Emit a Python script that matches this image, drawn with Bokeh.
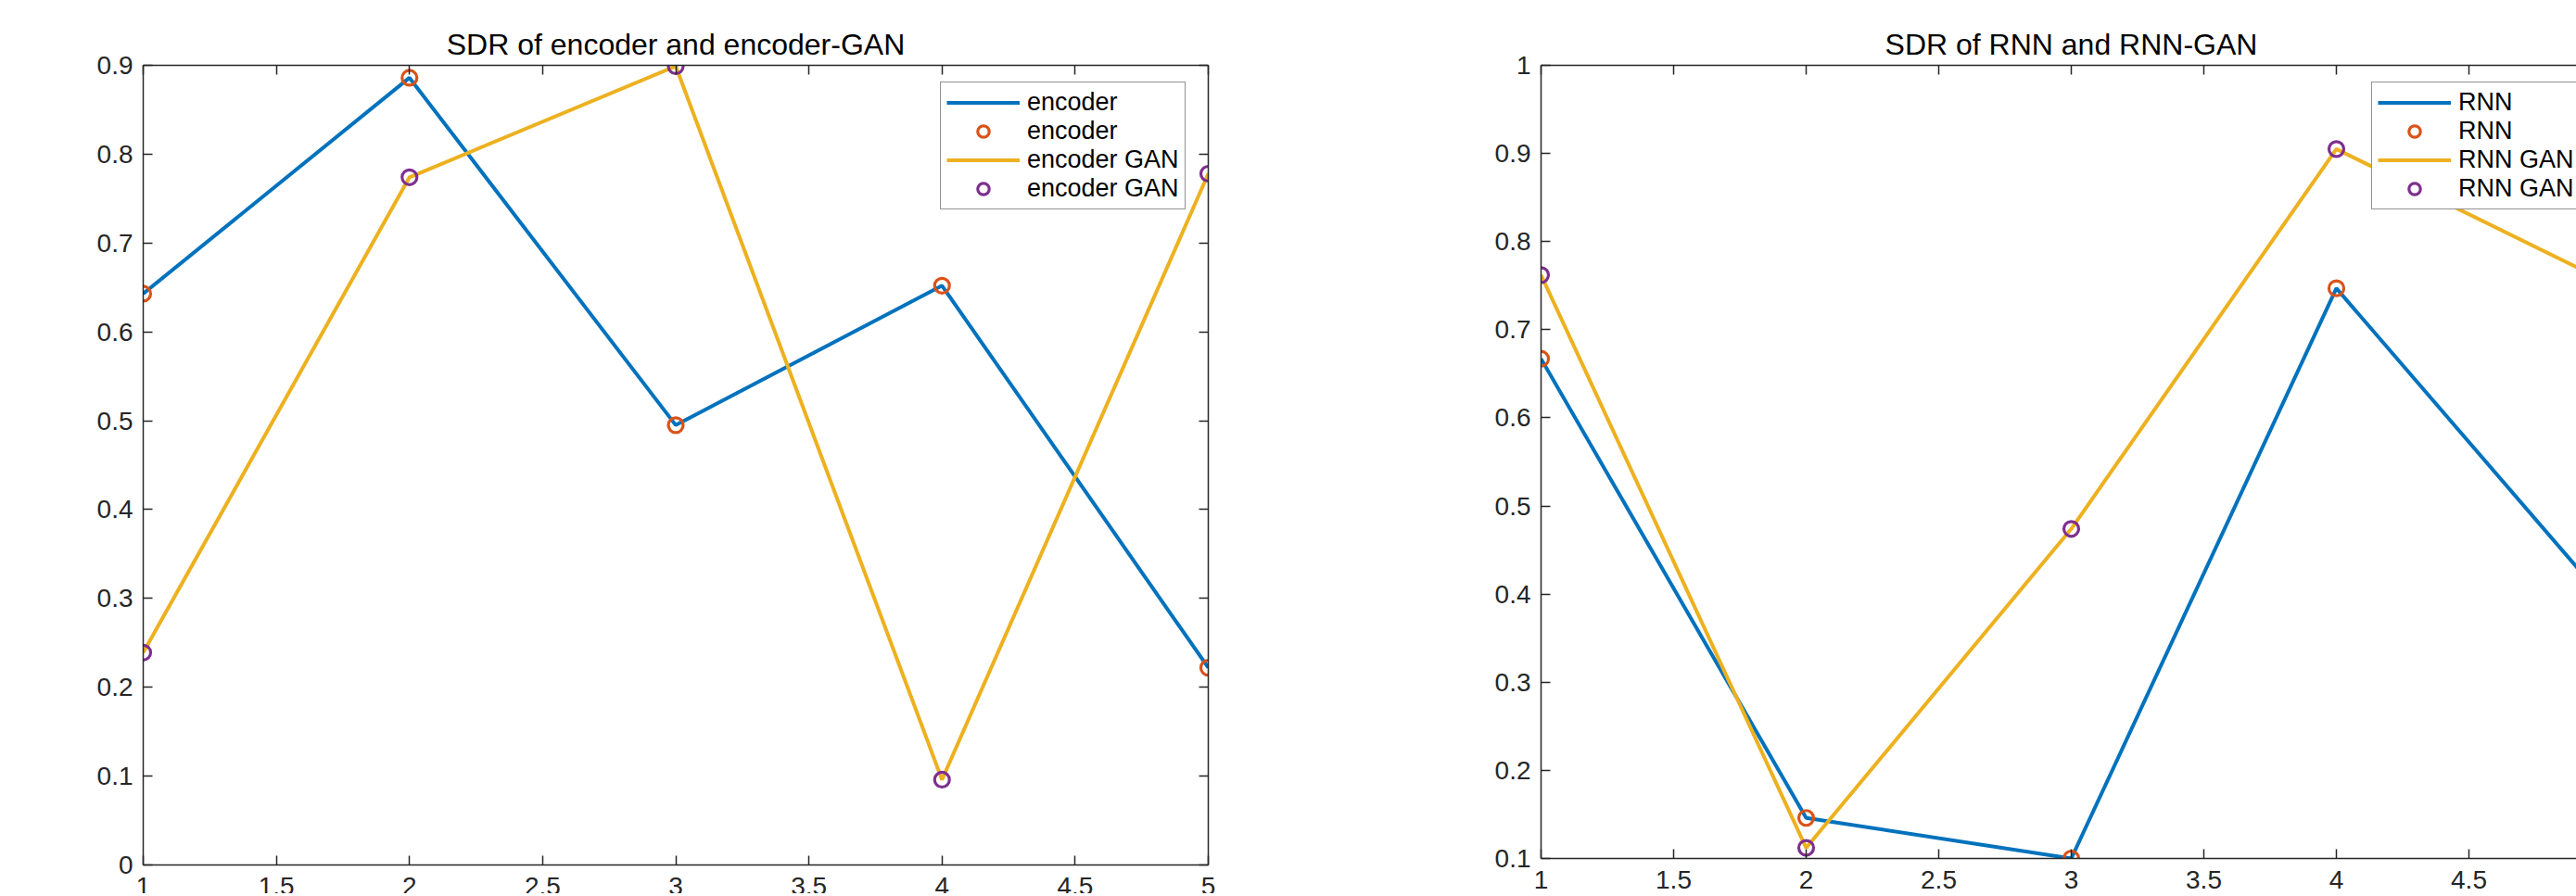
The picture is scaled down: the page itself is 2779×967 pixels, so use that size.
from bokeh.plotting import figure
from bokeh.layouts import row
from bokeh.models import (Legend, LegendItem, LinearAxis, FixedTicker, PrintfTickFormatter, Range1d)
from bokeh.embed import file_html
from bokeh.resources import INLINE

# ---------------- data ----------------
x_runs = [1, 2, 3, 4, 5]
encoder = [0.643, 0.886, 0.495, 0.652, 0.222]
encoder_gan = [0.239, 0.774, 0.899, 0.096, 0.778]
rnn = [0.667, 0.146, 0.100, 0.747, 0.398]
rnn_gan = [0.762, 0.112, 0.474, 0.905, 0.757]

x_ticks = [1, 1.5, 2, 2.5, 3, 3.5, 4, 4.5, 5]
left_y_ticks = [0, 0.1, 0.2, 0.3, 0.4, 0.5, 0.6, 0.7, 0.8, 0.9]
right_y_ticks = [0.1, 0.2, 0.3, 0.4, 0.5, 0.6, 0.7, 0.8, 0.9, 1.0]

left_title = "SDR of encoder and encoder-GAN"
right_title = "SDR of RNN and RNN-GAN"
left_legend = ["encoder", "encoder", "encoder GAN", "encoder GAN"]
right_legend = ["RNN", "RNN", "RNN GAN", "RNN GAN"]

# ---------------- style ----------------
BLUE = "#0072BD"
ORANGE = "#D95319"
YELLOW = "#EDB120"
PURPLE = "#7E2F8E"
AXIS = "#262626"
FONT = "Liberation Sans"
LW = 4
MSIZE = 16


def style_axis(ax, ticks, show_labels, standoff=12):
    ax.ticker = FixedTicker(ticks=ticks)
    ax.formatter = PrintfTickFormatter(format="%g")
    ax.axis_line_color = AXIS
    ax.axis_line_width = 1.5
    ax.major_tick_line_color = AXIS
    ax.major_tick_line_width = 1.5
    ax.major_tick_in = 10
    ax.major_tick_out = 0
    ax.minor_tick_line_color = None
    ax.major_label_text_font = FONT
    if show_labels:
        ax.major_label_text_color = AXIS
        ax.major_label_text_font_size = "28px"
        ax.major_label_standoff = standoff
    else:
        ax.major_label_text_color = None
        ax.major_label_text_alpha = 0
        ax.major_label_text_font_size = "0px"
        ax.major_label_standoff = 0


def make_panel(s1, s2, labels, title, y_lo, y_hi, y_ticks,
               bl, fw, br, bt, fh, legend_loc):
    p = figure(output_backend="svg", toolbar_location=None,
               frame_width=fw, frame_height=fh,
               min_border_left=bl, min_border_right=br,
               min_border_top=bt, min_border_bottom=10,
               x_range=Range1d(1, 5), y_range=Range1d(y_lo, y_hi),
               x_axis_location=None, y_axis_location=None)
    p.outline_line_color = None
    p.xgrid.visible = False
    p.ygrid.visible = False
    p.background_fill_color = "white"
    p.border_fill_color = "white"

    p.title.text = title
    p.title.align = "center"
    p.title.text_font = FONT
    p.title.text_font_size = "32px"
    p.title.text_font_style = "normal"
    p.title.text_color = "#000000"
    p.title.standoff = 10

    left = LinearAxis()
    style_axis(left, y_ticks, True, 11)
    p.add_layout(left, "left")
    bottom = LinearAxis()
    style_axis(bottom, x_ticks, True, 13)
    p.add_layout(bottom, "below")
    top = LinearAxis()
    style_axis(top, x_ticks, False)
    p.add_layout(top, "above")
    r_ax = LinearAxis()
    style_axis(r_ax, y_ticks, False)
    p.add_layout(r_ax, "right")

    r1 = p.line(x_runs, s1, line_color=BLUE, line_width=LW)
    r2 = p.scatter(x_runs, s1, marker="circle", size=MSIZE, fill_color=None,
                   line_color=ORANGE, line_width=3.2)
    r3 = p.line(x_runs, s2, line_color=YELLOW, line_width=LW)
    r4 = p.scatter(x_runs, s2, marker="circle", size=MSIZE, fill_color=None,
                   line_color=PURPLE, line_width=3.2)

    legend = Legend(items=[LegendItem(label=labels[0], renderers=[r1]),
                           LegendItem(label=labels[1], renderers=[r2]),
                           LegendItem(label=labels[2], renderers=[r3]),
                           LegendItem(label=labels[3], renderers=[r4])],
                    location=legend_loc,
                    label_text_font=FONT, label_text_font_size="27px",
                    label_text_color="#000000",
                    glyph_width=79, glyph_height=31, label_height=31,
                    label_standoff=8, spacing=0, padding=6, margin=0,
                    border_line_color=AXIS, border_line_width=1.5,
                    background_fill_color="white", background_fill_alpha=1.0)
    p.add_layout(legend)
    return p


p1 = make_panel(encoder, encoder_gan, left_legend, left_title, 0, 0.9, left_y_ticks,
                154, 1149, 97, 66, 863, (860, 707))
p2 = make_panel(rnn, rnn_gan, right_legend, right_title, 0.1, 1.0, right_y_ticks,
                262, 1144, 20, 70, 856, (896, 700))

layout = row(p1, p2)
open("out.html", "w").write(file_html(layout, INLINE))
